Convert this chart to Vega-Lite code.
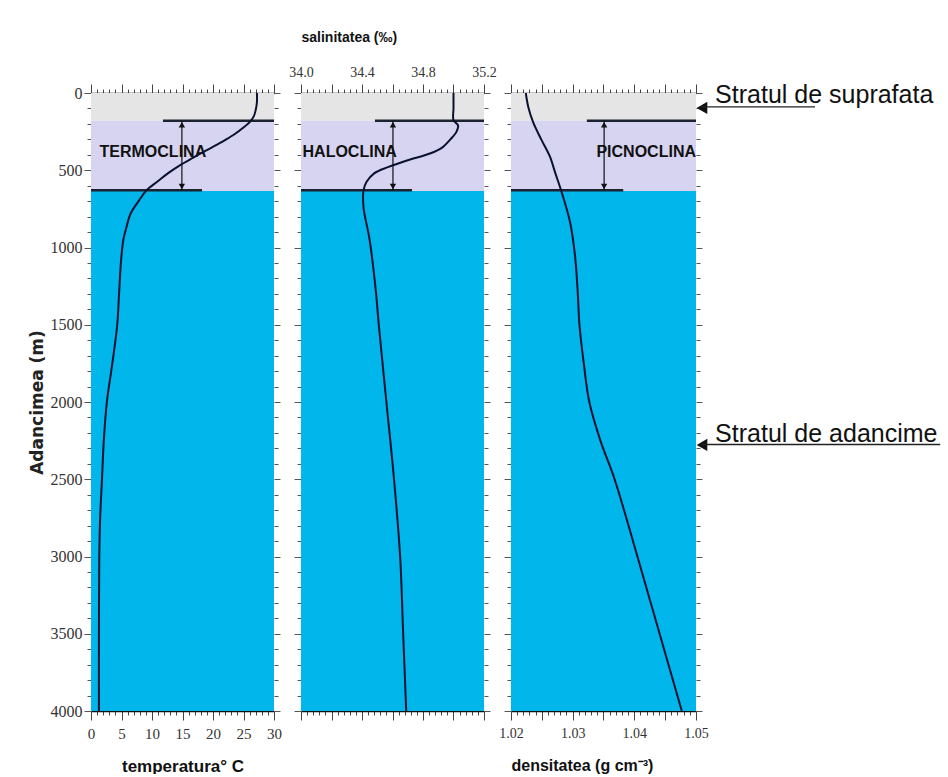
{
  "$schema": "https://vega.github.io/schema/vega-lite/v6.json",
  "background": "white",
  "padding": {"left": 28, "top": 30, "right": 0, "bottom": 0},
  "bounds": "flush",
  "spacing": 27,
  "config": {"view": {"stroke": null}, "axis": {"grid": false}},
  "datasets": {
    "bands": [
      {"top": 0, "bottom": 180, "zone": "suprafata"},
      {"top": 180, "bottom": 635, "zone": "clina"},
      {"top": 635, "bottom": 4000, "zone": "adancime"}
    ],
    "temp": [
      {"d": 0, "v": 27.2}, {"d": 60, "v": 27.2}, {"d": 110, "v": 27.0}, {"d": 150, "v": 26.7},
      {"d": 180, "v": 26.2}, {"d": 220, "v": 25.1}, {"d": 270, "v": 23.4}, {"d": 320, "v": 21.3},
      {"d": 370, "v": 19.0}, {"d": 420, "v": 16.7}, {"d": 470, "v": 14.5}, {"d": 520, "v": 12.6},
      {"d": 570, "v": 11.0}, {"d": 630, "v": 9.1}, {"d": 700, "v": 7.8}, {"d": 780, "v": 6.5},
      {"d": 870, "v": 5.8}, {"d": 950, "v": 5.3}, {"d": 1100, "v": 4.9}, {"d": 1300, "v": 4.6},
      {"d": 1500, "v": 4.3}, {"d": 1750, "v": 3.5}, {"d": 2000, "v": 2.6}, {"d": 2250, "v": 2.1},
      {"d": 2500, "v": 1.8}, {"d": 2750, "v": 1.5}, {"d": 3000, "v": 1.36}, {"d": 3500, "v": 1.3},
      {"d": 4000, "v": 1.3}
    ],
    "sal": [
      {"d": 0, "v": 35.0}, {"d": 100, "v": 35.0}, {"d": 175, "v": 35.0}, {"d": 210, "v": 35.03},
      {"d": 250, "v": 35.02}, {"d": 300, "v": 34.98}, {"d": 350, "v": 34.93}, {"d": 390, "v": 34.85},
      {"d": 435, "v": 34.70}, {"d": 480, "v": 34.57}, {"d": 520, "v": 34.48}, {"d": 575, "v": 34.43},
      {"d": 630, "v": 34.41}, {"d": 740, "v": 34.41}, {"d": 950, "v": 34.45}, {"d": 1275, "v": 34.49},
      {"d": 1500, "v": 34.51}, {"d": 2000, "v": 34.56}, {"d": 2500, "v": 34.61}, {"d": 3000, "v": 34.65},
      {"d": 3500, "v": 34.67}, {"d": 4000, "v": 34.69}
    ],
    "dens": [
      {"d": 0, "v": 1.0224}, {"d": 90, "v": 1.0228}, {"d": 190, "v": 1.0236}, {"d": 300, "v": 1.0249},
      {"d": 410, "v": 1.0263}, {"d": 520, "v": 1.0272}, {"d": 640, "v": 1.0282}, {"d": 840, "v": 1.0296},
      {"d": 1060, "v": 1.0304}, {"d": 1275, "v": 1.0308}, {"d": 1500, "v": 1.0311}, {"d": 1750, "v": 1.0318},
      {"d": 2000, "v": 1.0327}, {"d": 2250, "v": 1.0345}, {"d": 2500, "v": 1.0368}, {"d": 3000, "v": 1.0405},
      {"d": 3500, "v": 1.0441}, {"d": 4000, "v": 1.0477}
    ]
  },
  "hconcat": [
    {
      "width": 183, "height": 618,
      "resolve": {"axis": {"x": "independent", "y": "independent"}},
      "layer": [
        {
          "data": {"name": "bands"},
          "mark": {"type": "rect"},
          "encoding": {
            "y": {"field": "top", "type": "quantitative", "scale": {"domain": [0, 4000], "reverse": true, "nice": false, "zero": false},
              "axis": {"orient": "left", "values": [0,100,200,300,400,500,600,700,800,900,1000,1100,1200,1300,1400,1500,1600,1700,1800,1900,2000,2100,2200,2300,2400,2500,2600,2700,2800,2900,3000,3100,3200,3300,3400,3500,3600,3700,3800,3900,4000],
                "format": "d", "labelExpr": "datum.value % 500 === 0 ? datum.label : ''",
                "tickSize": {"condition": {"test": "datum.value % 500 === 0", "value": 7}, "value": 4},
                "labelFont": "Liberation Serif", "labelFontSize": 16, "labelColor": "#333", "labelPadding": 2, "labelFlush": false, "labelOverlap": false,
                "title": "Adancimea (m)", "titleFont": "DejaVu Sans", "titleFontSize": 17, "titleFontWeight": "bold", "titleColor": "#222", "titlePadding": 4,
                "domain": false, "tickColor": "#555"}},
            "y2": {"field": "bottom"},
            "x": {"datum": 0, "type": "quantitative", "scale": {"domain": [0, 30], "nice": false, "zero": false},
              "axis": {"orient": "bottom", "values": [0,1,2,3,4,5,6,7,8,9,10,11,12,13,14,15,16,17,18,19,20,21,22,23,24,25,26,27,28,29,30],
                "labelExpr": "datum.value % 5 === 0 ? datum.label : ''",
                "tickSize": {"condition": {"test": "datum.value % 5 === 0", "value": 9}, "value": 4},
                "labelFont": "Liberation Serif", "labelFontSize": 15, "labelColor": "#333", "labelPadding": 6, "labelFlush": false, "labelOverlap": false,
                "title": "temperatura° C", "titleFont": "Liberation Sans", "titleFontSize": 17, "titleFontWeight": "bold", "titleColor": "#111", "titlePadding": 17,
                "domainColor": "#111", "domainWidth": 1.5, "tickColor": "#444"}},
            "x2": {"datum": 30},
            "color": {"field": "zone", "type": "nominal", "scale": {"domain": ["suprafata", "clina", "adancime"], "range": ["#e5e5e5", "#d7d4f2", "#00b6ea"]}, "legend": null}
          }
        },
        {
          "data": {"values": [{"a": 11.8, "b": 30, "d": 180}, {"a": 0, "b": 18.2, "d": 630}]},
          "mark": {"type": "rule", "color": "#1b2230", "strokeWidth": 2.5},
          "encoding": {
            "x": {"field": "a", "type": "quantitative", "scale": {"domain": [0, 30], "nice": false, "zero": false}, "axis": null},
            "x2": {"field": "b"},
            "y": {"field": "d", "type": "quantitative", "scale": {"domain": [0, 4000], "reverse": true, "nice": false, "zero": false}, "axis": null}
          }
        },
        {
          "data": {"values": [{"x": 14.9, "d1": 180, "d2": 630}]},
          "mark": {"type": "rule", "color": "#111", "strokeWidth": 1.2},
          "encoding": {
            "x": {"field": "x", "type": "quantitative", "scale": {"domain": [0, 30], "nice": false, "zero": false}, "axis": null},
            "y": {"field": "d1", "type": "quantitative", "scale": {"domain": [0, 4000], "reverse": true, "nice": false, "zero": false}, "axis": null},
            "y2": {"field": "d2"}
          }
        },
        {
          "data": {"values": [{"x": 14.9, "d": 205, "s": "triangle-up"}, {"x": 14.9, "d": 605, "s": "triangle-down"}]},
          "mark": {"type": "point", "filled": true, "color": "#111", "size": 40, "opacity": 1},
          "encoding": {
            "x": {"field": "x", "type": "quantitative", "scale": {"domain": [0, 30], "nice": false, "zero": false}, "axis": null},
            "y": {"field": "d", "type": "quantitative", "scale": {"domain": [0, 4000], "reverse": true, "nice": false, "zero": false}, "axis": null},
            "shape": {"field": "s", "type": "nominal", "scale": null}
          }
        },
        {
          "data": {"values": [{"t": "TERMOCLINA", "x": 1.4, "d": 385}]},
          "mark": {"type": "text", "align": "left", "baseline": "middle", "font": "Liberation Sans", "fontWeight": "bold", "fontSize": 16, "color": "#111"},
          "encoding": {
            "x": {"field": "x", "type": "quantitative", "scale": {"domain": [0, 30], "nice": false, "zero": false}, "axis": null},
            "y": {"field": "d", "type": "quantitative", "scale": {"domain": [0, 4000], "reverse": true, "nice": false, "zero": false}, "axis": null},
            "text": {"field": "t"}
          }
        },
        {
          "data": {"name": "temp"},
          "mark": {"type": "line", "color": "#0b1230", "strokeWidth": 2, "interpolate": "catmull-rom"},
          "encoding": {
            "x": {"field": "v", "type": "quantitative", "scale": {"domain": [0, 30], "nice": false, "zero": false},
              "axis": {"orient": "top", "values": [0,1,2,3,4,5,6,7,8,9,10,11,12,13,14,15,16,17,18,19,20,21,22,23,24,25,26,27,28,29,30],
                "labels": false, "title": null,
                "tickSize": {"condition": {"test": "datum.value % 5 === 0", "value": 9}, "value": 4},
                "domainColor": "#111", "domainWidth": 1.5, "tickColor": "#444"}},
            "y": {"field": "d", "type": "quantitative", "scale": {"domain": [0, 4000], "reverse": true, "nice": false, "zero": false},
              "axis": {"orient": "right", "values": [0,100,200,300,400,500,600,700,800,900,1000,1100,1200,1300,1400,1500,1600,1700,1800,1900,2000,2100,2200,2300,2400,2500,2600,2700,2800,2900,3000,3100,3200,3300,3400,3500,3600,3700,3800,3900,4000],
                "labels": false, "title": null, "domain": false,
                "tickSize": {"condition": {"test": "datum.value % 500 === 0", "value": 6}, "value": 4}, "tickColor": "#555"}},
            "order": {"field": "d", "type": "quantitative"}
          }
        }
      ]
    },
    {
      "width": 183, "height": 618,
      "resolve": {"axis": {"x": "independent", "y": "independent"}},
      "layer": [
        {
          "data": {"name": "bands"},
          "mark": {"type": "rect"},
          "encoding": {
            "y": {"field": "top", "type": "quantitative", "scale": {"domain": [0, 4000], "reverse": true, "nice": false, "zero": false},
              "axis": {"orient": "left", "values": [0,100,200,300,400,500,600,700,800,900,1000,1100,1200,1300,1400,1500,1600,1700,1800,1900,2000,2100,2200,2300,2400,2500,2600,2700,2800,2900,3000,3100,3200,3300,3400,3500,3600,3700,3800,3900,4000],
                "labels": false, "title": null, "domain": false,
                "tickSize": {"condition": {"test": "datum.value % 500 === 0", "value": 7}, "value": 4}, "tickColor": "#555"}},
            "y2": {"field": "bottom"},
            "x": {"datum": 34, "type": "quantitative", "scale": {"domain": [34, 35.2], "nice": false, "zero": false},
              "axis": {"orient": "bottom", "values": [34,34.04,34.08,34.12,34.16,34.2,34.24,34.28,34.32,34.36,34.4,34.44,34.48,34.52,34.56,34.6,34.64,34.68,34.72,34.76,34.8,34.84,34.88,34.92,34.96,35,35.04,35.08,35.12,35.16,35.2],
                "labels": false, "title": null,
                "tickSize": {"condition": {"test": "round(datum.value*100) % 20 === 0", "value": 9}, "value": 4},
                "domainColor": "#111", "domainWidth": 1.5, "tickColor": "#444"}},
            "x2": {"datum": 35.2},
            "color": {"field": "zone", "type": "nominal", "scale": {"domain": ["suprafata", "clina", "adancime"], "range": ["#e5e5e5", "#d7d4f2", "#00b6ea"]}, "legend": null}
          }
        },
        {
          "data": {"values": [{"a": 34.485, "b": 35.2, "d": 180}, {"a": 34.0, "b": 34.728, "d": 630}]},
          "mark": {"type": "rule", "color": "#1b2230", "strokeWidth": 2.5},
          "encoding": {
            "x": {"field": "a", "type": "quantitative", "scale": {"domain": [34, 35.2], "nice": false, "zero": false}, "axis": null},
            "x2": {"field": "b"},
            "y": {"field": "d", "type": "quantitative", "scale": {"domain": [0, 4000], "reverse": true, "nice": false, "zero": false}, "axis": null}
          }
        },
        {
          "data": {"values": [{"x": 34.603, "d1": 180, "d2": 630}]},
          "mark": {"type": "rule", "color": "#111", "strokeWidth": 1.2},
          "encoding": {
            "x": {"field": "x", "type": "quantitative", "scale": {"domain": [34, 35.2], "nice": false, "zero": false}, "axis": null},
            "y": {"field": "d1", "type": "quantitative", "scale": {"domain": [0, 4000], "reverse": true, "nice": false, "zero": false}, "axis": null},
            "y2": {"field": "d2"}
          }
        },
        {
          "data": {"values": [{"x": 34.603, "d": 205, "s": "triangle-up"}, {"x": 34.603, "d": 605, "s": "triangle-down"}]},
          "mark": {"type": "point", "filled": true, "color": "#111", "size": 40, "opacity": 1},
          "encoding": {
            "x": {"field": "x", "type": "quantitative", "scale": {"domain": [34, 35.2], "nice": false, "zero": false}, "axis": null},
            "y": {"field": "d", "type": "quantitative", "scale": {"domain": [0, 4000], "reverse": true, "nice": false, "zero": false}, "axis": null},
            "shape": {"field": "s", "type": "nominal", "scale": null}
          }
        },
        {
          "data": {"values": [{"t": "HALOCLINA", "x": 34.01, "d": 385}]},
          "mark": {"type": "text", "align": "left", "baseline": "middle", "font": "Liberation Sans", "fontWeight": "bold", "fontSize": 16, "color": "#111"},
          "encoding": {
            "x": {"field": "x", "type": "quantitative", "scale": {"domain": [34, 35.2], "nice": false, "zero": false}, "axis": null},
            "y": {"field": "d", "type": "quantitative", "scale": {"domain": [0, 4000], "reverse": true, "nice": false, "zero": false}, "axis": null},
            "text": {"field": "t"}
          }
        },
        {
          "data": {"name": "sal"},
          "mark": {"type": "line", "color": "#0b1230", "strokeWidth": 2, "interpolate": "catmull-rom"},
          "encoding": {
            "x": {"field": "v", "type": "quantitative", "scale": {"domain": [34, 35.2], "nice": false, "zero": false},
              "axis": {"orient": "top", "values": [34,34.04,34.08,34.12,34.16,34.2,34.24,34.28,34.32,34.36,34.4,34.44,34.48,34.52,34.56,34.6,34.64,34.68,34.72,34.76,34.8,34.84,34.88,34.92,34.96,35,35.04,35.08,35.12,35.16,35.2],
                "format": ".1f", "labelExpr": "round(datum.value*100) % 40 === 0 ? datum.label : ''",
                "tickSize": {"condition": {"test": "round(datum.value*100) % 20 === 0", "value": 9}, "value": 4},
                "labelFont": "Liberation Serif", "labelFontSize": 14, "labelColor": "#333", "labelPadding": 5, "labelFlush": false, "labelOverlap": false,
                "title": "salinitatea (‰)", "titleFont": "Liberation Sans", "titleFontSize": 14, "titleFontWeight": "bold", "titleColor": "#111", "titlePadding": 21, "titleAnchor": "start",
                "domainColor": "#111", "domainWidth": 1.5, "tickColor": "#444"}},
            "y": {"field": "d", "type": "quantitative", "scale": {"domain": [0, 4000], "reverse": true, "nice": false, "zero": false},
              "axis": {"orient": "right", "values": [0,100,200,300,400,500,600,700,800,900,1000,1100,1200,1300,1400,1500,1600,1700,1800,1900,2000,2100,2200,2300,2400,2500,2600,2700,2800,2900,3000,3100,3200,3300,3400,3500,3600,3700,3800,3900,4000],
                "labels": false, "title": null, "domain": false,
                "tickSize": {"condition": {"test": "datum.value % 500 === 0", "value": 6}, "value": 4}, "tickColor": "#555"}},
            "order": {"field": "d", "type": "quantitative"}
          }
        }
      ]
    },
    {
      "width": 185, "height": 618,
      "resolve": {"axis": {"x": "independent", "y": "independent"}},
      "layer": [
        {
          "data": {"name": "bands"},
          "mark": {"type": "rect"},
          "encoding": {
            "y": {"field": "top", "type": "quantitative", "scale": {"domain": [0, 4000], "reverse": true, "nice": false, "zero": false},
              "axis": {"orient": "left", "values": [0,100,200,300,400,500,600,700,800,900,1000,1100,1200,1300,1400,1500,1600,1700,1800,1900,2000,2100,2200,2300,2400,2500,2600,2700,2800,2900,3000,3100,3200,3300,3400,3500,3600,3700,3800,3900,4000],
                "labels": false, "title": null, "domain": false,
                "tickSize": {"condition": {"test": "datum.value % 500 === 0", "value": 7}, "value": 4}, "tickColor": "#555"}},
            "y2": {"field": "bottom"},
            "x": {"datum": 1.02, "type": "quantitative", "scale": {"domain": [1.02, 1.05], "nice": false, "zero": false},
              "axis": {"orient": "bottom", "values": [1.02,1.021,1.022,1.023,1.024,1.025,1.026,1.027,1.028,1.029,1.03,1.031,1.032,1.033,1.034,1.035,1.036,1.037,1.038,1.039,1.04,1.041,1.042,1.043,1.044,1.045,1.046,1.047,1.048,1.049,1.05],
                "format": ".2f", "labelExpr": "round(datum.value*1000) % 10 === 0 ? datum.label : ''",
                "tickSize": {"condition": {"test": "round(datum.value*1000) % 5 === 0", "value": 9}, "value": 4},
                "labelFont": "Liberation Serif", "labelFontSize": 14, "labelColor": "#333", "labelPadding": 6, "labelFlush": false, "labelOverlap": false,
                "title": "densitatea (g cm⁻³)", "titleFont": "Liberation Sans", "titleFontSize": 16, "titleFontWeight": "bold", "titleColor": "#111", "titlePadding": 17, "titleAnchor": "start",
                "domainColor": "#111", "domainWidth": 1.5, "tickColor": "#444"}},
            "x2": {"datum": 1.05},
            "color": {"field": "zone", "type": "nominal", "scale": {"domain": ["suprafata", "clina", "adancime"], "range": ["#e5e5e5", "#d7d4f2", "#00b6ea"]}, "legend": null}
          }
        },
        {
          "data": {"values": [{"a": 1.0323, "b": 1.05, "d": 180}, {"a": 1.02, "b": 1.0382, "d": 630}]},
          "mark": {"type": "rule", "color": "#1b2230", "strokeWidth": 2.5},
          "encoding": {
            "x": {"field": "a", "type": "quantitative", "scale": {"domain": [1.02, 1.05], "nice": false, "zero": false}, "axis": null},
            "x2": {"field": "b"},
            "y": {"field": "d", "type": "quantitative", "scale": {"domain": [0, 4000], "reverse": true, "nice": false, "zero": false}, "axis": null}
          }
        },
        {
          "data": {"values": [{"x": 1.0351, "d1": 180, "d2": 630}]},
          "mark": {"type": "rule", "color": "#111", "strokeWidth": 1.2},
          "encoding": {
            "x": {"field": "x", "type": "quantitative", "scale": {"domain": [1.02, 1.05], "nice": false, "zero": false}, "axis": null},
            "y": {"field": "d1", "type": "quantitative", "scale": {"domain": [0, 4000], "reverse": true, "nice": false, "zero": false}, "axis": null},
            "y2": {"field": "d2"}
          }
        },
        {
          "data": {"values": [{"x": 1.0351, "d": 205, "s": "triangle-up"}, {"x": 1.0351, "d": 605, "s": "triangle-down"}, {"x": 1.05097, "d": 97, "s": "triangle-left"}, {"x": 1.05097, "d": 2278, "s": "triangle-left"}]},
          "mark": {"type": "point", "filled": true, "color": "#111", "size": 40, "opacity": 1},
          "encoding": {
            "x": {"field": "x", "type": "quantitative", "scale": {"domain": [1.02, 1.05], "nice": false, "zero": false}, "axis": null},
            "y": {"field": "d", "type": "quantitative", "scale": {"domain": [0, 4000], "reverse": true, "nice": false, "zero": false}, "axis": null},
            "shape": {"field": "s", "type": "nominal", "scale": null},
            "size": {"condition": {"test": "datum.s === 'triangle-left'", "value": 150}, "value": 40}
          }
        },
        {
          "data": {"values": [{"t": "PICNOCLINA", "x": 1.05, "d": 385}]},
          "mark": {"type": "text", "align": "right", "baseline": "middle", "font": "Liberation Sans", "fontWeight": "bold", "fontSize": 16, "color": "#111"},
          "encoding": {
            "x": {"field": "x", "type": "quantitative", "scale": {"domain": [1.02, 1.05], "nice": false, "zero": false}, "axis": null},
            "y": {"field": "d", "type": "quantitative", "scale": {"domain": [0, 4000], "reverse": true, "nice": false, "zero": false}, "axis": null},
            "text": {"field": "t"}
          }
        },
        {
          "data": {"values": [{"a": 1.0508, "b": 1.0693, "d": 90}, {"a": 1.0508, "b": 1.0896, "d": 2275}]},
          "mark": {"type": "rule", "color": "#222", "strokeWidth": 1.3},
          "encoding": {
            "x": {"field": "a", "type": "quantitative", "scale": {"domain": [1.02, 1.05], "nice": false, "zero": false}, "axis": null},
            "x2": {"field": "b"},
            "y": {"field": "d", "type": "quantitative", "scale": {"domain": [0, 4000], "reverse": true, "nice": false, "zero": false}, "axis": null}
          }
        },
        {
          "data": {"values": [{"t": "Stratul de suprafata", "x": 1.0531, "d": 65}, {"t": "Stratul de adancime", "x": 1.0531, "d": 2262}]},
          "mark": {"type": "text", "align": "left", "baseline": "alphabetic", "font": "Liberation Sans", "fontSize": 25, "color": "#111"},
          "encoding": {
            "x": {"field": "x", "type": "quantitative", "scale": {"domain": [1.02, 1.05], "nice": false, "zero": false}, "axis": null},
            "y": {"field": "d", "type": "quantitative", "scale": {"domain": [0, 4000], "reverse": true, "nice": false, "zero": false}, "axis": null},
            "text": {"field": "t"}
          }
        },
        {
          "data": {"name": "dens"},
          "mark": {"type": "line", "color": "#0b1230", "strokeWidth": 2, "interpolate": "catmull-rom"},
          "encoding": {
            "x": {"field": "v", "type": "quantitative", "scale": {"domain": [1.02, 1.05], "nice": false, "zero": false},
              "axis": {"orient": "top", "values": [1.02,1.021,1.022,1.023,1.024,1.025,1.026,1.027,1.028,1.029,1.03,1.031,1.032,1.033,1.034,1.035,1.036,1.037,1.038,1.039,1.04,1.041,1.042,1.043,1.044,1.045,1.046,1.047,1.048,1.049,1.05],
                "labels": false, "title": null,
                "tickSize": {"condition": {"test": "round(datum.value*1000) % 5 === 0", "value": 9}, "value": 4},
                "domainColor": "#111", "domainWidth": 1.5, "tickColor": "#444"}},
            "y": {"field": "d", "type": "quantitative", "scale": {"domain": [0, 4000], "reverse": true, "nice": false, "zero": false},
              "axis": {"orient": "right", "values": [0,100,200,300,400,500,600,700,800,900,1000,1100,1200,1300,1400,1500,1600,1700,1800,1900,2000,2100,2200,2300,2400,2500,2600,2700,2800,2900,3000,3100,3200,3300,3400,3500,3600,3700,3800,3900,4000],
                "labels": false, "title": null, "domain": false,
                "tickSize": {"condition": {"test": "datum.value % 500 === 0", "value": 6}, "value": 4}, "tickColor": "#555"}},
            "order": {"field": "d", "type": "quantitative"}
          }
        }
      ]
    }
  ]
}
